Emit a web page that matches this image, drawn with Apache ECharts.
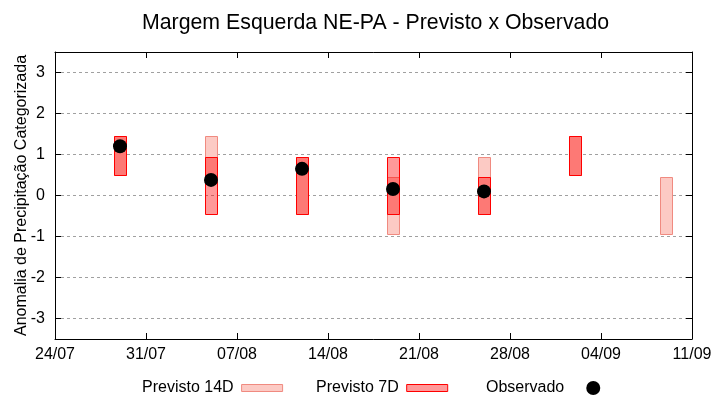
<!DOCTYPE html>
<html>
<head>
<meta charset="utf-8">
<script src="https://cdn.jsdelivr.net/npm/echarts@6/dist/echarts.min.js"></script>
<style>html,body{margin:0;padding:0;background:#fff}#c{width:720px;height:400px}</style>
</head>
<body>
<div id="c"></div>
<script>
// ---- data ----
const dates = ['2025-07-29','2025-08-05','2025-08-12','2025-08-19','2025-08-26','2025-09-02','2025-09-09'];
const prev14Low  = [0.5, 0.45, -0.45, -0.95, -0.45, 0.5, -0.95];
const prev14High = [1.45, 1.45, 0.95, 0.45, 0.95, 1.45, 0.45];
const prev7Low   = [0.5, -0.45, -0.45, -0.45, -0.45, 0.5, null];
const prev7High  = [1.45, 0.95, 0.95, 0.95, 0.45, 1.45, null];
const observed   = [1.2, 0.38, 0.65, 0.16, 0.1, null, null];
const xStart = '2025-07-24';
const xEnd = '2025-09-11';
const yMin = -3.5, yMax = 3.5;

const DAY = 86400000;
function ts(s){ const p = s.split('-'); return Date.UTC(+p[0], +p[1]-1, +p[2]); }
function fmt(v){ const d = new Date(v); const dd = String(d.getUTCDate()).padStart(2,'0'); const mm = String(d.getUTCMonth()+1).padStart(2,'0'); return dd + '/' + mm; }

const d14 = [], d7 = [], dObs = [];
dates.forEach((d,i) => {
  if (prev14Low[i] != null) d14.push([ts(d), prev14Low[i], prev14High[i]]);
  if (prev7Low[i] != null) d7.push([ts(d), prev7Low[i], prev7High[i]]);
  if (observed[i] != null) dObs.push([ts(d), observed[i]]);
});

const FONT = 'Liberation Sans';
function rangeRender(fill, stroke){
  return function(params, api){
    const x = api.value(0);
    const p1 = api.coord([x - 0.475*DAY, api.value(2)]);
    const p2 = api.coord([x + 0.475*DAY, api.value(1)]);
    return {
      type: 'rect',
      shape: { x: Math.round(p1[0]) + 0.5, y: Math.round(p1[1]) + 0.5, width: Math.round(p2[0]-p1[0]), height: Math.round(p2[1]-p1[1]) },
      style: { fill: fill, stroke: stroke, lineWidth: 1 }
    };
  };
}

const c14 = '#fccac4', s14 = '#f08a80';
const c7 = 'rgba(255,0,0,0.4)', s7 = '#ff0000';

const xCommon = {
  type: 'value', min: ts(xStart), max: ts(xEnd), interval: 7*DAY,
  axisLine: { show: true, onZero: false, lineStyle: { color: '#000', width: 1 } },
  axisTick: { show: true, inside: true, length: 6, lineStyle: { color: '#000' } },
  splitLine: { show: false }
};
const yCommon = {
  type: 'value', min: yMin, max: yMax, splitNumber: 7,
  axisLine: { show: true, onZero: false, lineStyle: { color: '#000', width: 1 } },
  axisTick: { show: true, inside: true, length: 6, lineStyle: { color: '#000' } }
};

const legendText = { fontFamily: FONT, fontSize: 16, color: '#000', padding: [0, 3, 0, 0] };

const chart = echarts.init(document.getElementById('c'));
chart.setOption({
  animation: false,
  backgroundColor: '#fff',
  title: {
    text: 'Margem Esquerda NE-PA - Previsto x Observado',
    left: 137, top: 8,
    textStyle: { fontFamily: FONT, fontSize: 21.3, fontWeight: 'normal', color: '#000' }
  },
  grid: { left: 55, right: 28, top: 52, bottom: 61, outerBoundsMode: 'none', containLabel: false },
  xAxis: [
    Object.assign({}, xCommon, { position: 'bottom',
      axisLabel: { formatter: fmt, margin: 8, color: '#000', fontFamily: FONT, fontSize: 16 } }),
    Object.assign({}, xCommon, { position: 'top', axisLabel: { show: false } })
  ],
  yAxis: [
    Object.assign({}, yCommon, { position: 'left',
      name: 'Anomalia de Precipitação Categorizada', nameLocation: 'middle', nameGap: 25,
      nameMoveOverlap: false,
      nameTextStyle: { fontFamily: FONT, fontSize: 16, color: '#000' },
      axisLabel: { margin: 10, color: '#000', fontFamily: FONT, fontSize: 16,
        formatter: v => (Number.isInteger(v) ? String(v) : '') },
      splitLine: { show: true, lineStyle: { color: '#a0a0a0', width: 1, type: [3,3] } } }),
    Object.assign({}, yCommon, { position: 'right', axisLabel: { show: false }, splitLine: { show: false } })
  ],
  legend: [
    { data: [{ name: 'Previsto 14D', icon: 'rect', itemStyle: { color: c14, borderColor: s14, borderWidth: 1 } }],
      left: 142, top: 380, padding: 0, itemWidth: 41, itemHeight: 7, align: 'right', textStyle: legendText },
    { data: [{ name: 'Previsto 7D', icon: 'rect', itemStyle: { color: c7, borderColor: s7, borderWidth: 1 } }],
      left: 316, top: 380, padding: 0, itemWidth: 41, itemHeight: 7, align: 'right', textStyle: legendText },
    { data: [{ name: 'Observado', icon: 'circle', itemStyle: { color: '#000', opacity: 1 } }],
      left: 486, top: 380, padding: 0, itemWidth: 42, itemHeight: 14, align: 'right', textStyle: legendText }
  ],
  series: [
    { name: 'Previsto 14D', type: 'custom', renderItem: rangeRender(c14, s14), data: d14,
      encode: { x: 0, y: [1, 2] }, itemStyle: { color: c14 }, z: 2 },
    { name: 'Previsto 7D', type: 'custom', renderItem: rangeRender(c7, s7), data: d7,
      encode: { x: 0, y: [1, 2] }, itemStyle: { color: c7 }, z: 3 },
    { name: 'Observado', type: 'scatter', data: dObs, symbol: 'circle', symbolSize: 14,
      itemStyle: { color: '#000', opacity: 1 }, z: 4 }
  ]
});
</script>
</body>
</html>
